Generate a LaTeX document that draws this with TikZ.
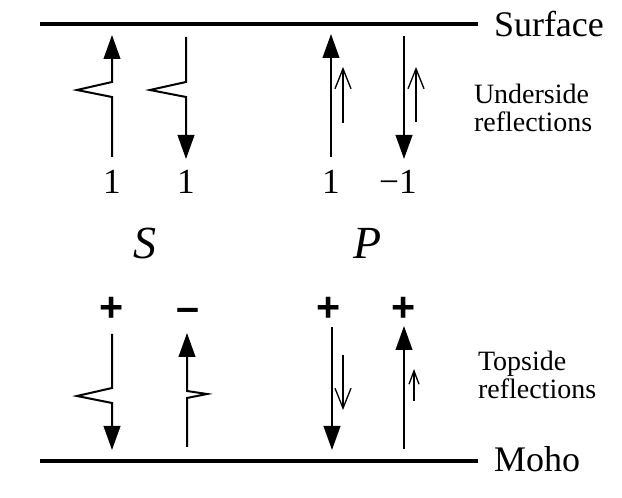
\documentclass[tikz,border=0pt]{standalone}
\usepackage{fontspec}
\setmainfont{Liberation Serif}
\newfontfamily\signfont{Liberation Sans}
\usetikzlibrary{positioning, arrows.meta}

\begin{document}
\begin{tikzpicture}[x=0.75pt, y=-0.75pt, line width=1.5pt,
    ray/.style={-{Triangle[length=18pt,width=12.5pt]}},
    pol/.style={line width=1pt, -{Straight Barb[length=15pt,width=12pt]}},
    polsmall/.style={line width=1pt, -{Straight Barb[length=10pt,width=7.5pt]}},
    amp/.style={font=\fontsize{26.5}{30}\selectfont, anchor=base},
    sgn/.style={font=\signfont\bfseries\fontsize{31}{34}\selectfont, anchor=base},
    wave/.style={font=\itshape\fontsize{34.5}{40}\selectfont, anchor=base},
    bound/.style={font=\fontsize{27}{30}\selectfont, anchor=base west, inner sep=0pt},
    note/.style={font=\fontsize{21}{21}\selectfont, align=left, anchor=base west, inner sep=0pt}]
  \useasboundingbox (0,0) rectangle (622,498);
  % boundaries
  \draw[line width=3pt] (40,24) -- (478,24);
  \draw[line width=3pt] (40,461) -- (478,461);
  \node[bound] (surface) at (493,37) {Surface};
  \node[bound] (moho) at (493,472) {Moho};
  \node[note] (under) at (473,132) {Underside\\reflections};
  \node[note] (top) at (477,399) {Topside\\reflections};
  % underside
  \draw[ray] (112,157) -- (112,97) -- (77,90) -- (112,82) -- (112,35);
  \draw[ray] (186,37) -- (186,82) -- (150,90) -- (186,97) -- (186,159);
  \draw[ray] (331,157) -- (331,34);
  \draw[pol] (343,123) -- (343,67);
  \draw[ray] (404,36) -- (404,159);
  \draw[pol] (416,122) -- (416,67);
  \node[amp] (a1) at (112,194) {1};
  \node[amp] (a2) at (186,194) {1};
  \node[amp] (a3) at (331,194) {1};
  \node[amp] (a4) at (398,194) {−1};
  \node[wave] (s) at (145,259) {S};
  \node[wave] (p) at (368,259) {P};
  % topside
  \node[sgn] (b1) at (112,322) {+};
  \node[sgn] (b2) at (188,322) {\textendash};
  \node[sgn] (b3) at (329,322) {+};
  \node[sgn] (b4) at (404,322) {+};
  \draw[ray] (112,334) -- (112,388) -- (77,396) -- (112,403) -- (112,450);
  \draw[ray] (187,447) -- (187,398) -- (207,394) -- (187,391) -- (187,333);
  \draw[ray] (332,327) -- (332,450);
  \draw[pol] (343,355) -- (343,410);
  \draw[ray] (404,449) -- (404,326);
  \draw[polsmall] (414,401) -- (414,369);
\end{tikzpicture}
\end{document}
